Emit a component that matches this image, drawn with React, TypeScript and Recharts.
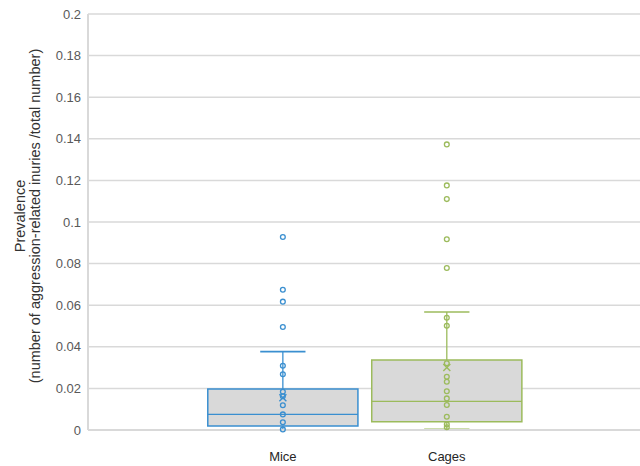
import { ComposedChart, XAxis, YAxis, CartesianGrid, Scatter, ReferenceArea, ReferenceLine } from 'recharts'

const categories = ['Mice', 'Cages']

// box stats: [min, q1, median, q3, max]
const miceBox = [0, 0.0019, 0.0075, 0.0197, 0.0377]
const cagesBox = [0.0003, 0.004, 0.0138, 0.0337, 0.0567]
const miceMean = 0.0155
const cagesMean = 0.0301

const micePoints = [0.0928, 0.0674, 0.0617, 0.0495, 0.0309, 0.0268, 0.0184, 0.0162, 0.0119, 0.0075, 0.0037, 0.0003]
const cagesPoints = [0.1373, 0.1176, 0.111, 0.0917, 0.0779, 0.054, 0.0501, 0.0321, 0.0256, 0.0232, 0.0186, 0.0152, 0.012, 0.0064, 0.0027, 0.0013]

const yTicks = [0, 0.02, 0.04, 0.06, 0.08, 0.1, 0.12, 0.14, 0.16, 0.18, 0.2]

const colors = ['#3a8fd0', '#9cbb5c']
const xPos = [0.353, 0.65]
const boxHalf = 0.136
const capHalf = 0.041
const font = "'Liberation Sans', Arial, sans-serif"

const boxes = [miceBox, cagesBox]
const means = [miceMean, cagesMean]
const points = [micePoints, cagesPoints]

const AxisTitle = () => (
  <text transform="translate(25, 216) rotate(-90)" textAnchor="middle" fill="#333333" fontSize={14.5} fontFamily={font}>
    <tspan x={0} dy={0}>Prevalence</tspan>
    <tspan x={0} dy={15}>(number of aggression-related inuries /total number)</tspan>
  </text>
)

export default function App() {
  return (
    <div style={{ position: 'absolute', left: 0, top: 0, background: '#fff' }}>
      <ComposedChart width={640} height={466} margin={{ top: 14, right: 0, bottom: 0, left: 0 }}>
        <CartesianGrid vertical={false} stroke="#d9d9d9" strokeWidth={1.5} />
        <XAxis
          type="number"
          dataKey="x"
          domain={[0, 1]}
          ticks={xPos}
          tickFormatter={(v: number) => categories[xPos.indexOf(v)] ?? ''}
          axisLine={{ stroke: '#d9d9d9', strokeWidth: 2 }}
          tickLine={false}
          tickSize={0}
          tickMargin={22}
          height={36}
          tick={{ fill: '#262626', fontSize: 13, fontFamily: font }}
        />
        <YAxis
          type="number"
          dataKey="y"
          domain={[0, 0.2]}
          ticks={yTicks}
          interval={0}
          width={88}
          axisLine={{ stroke: '#d9d9d9', strokeWidth: 2 }}
          tickLine={false}
          tickSize={0}
          tickMargin={7}
          tick={{ fill: '#595959', fontSize: 13, fontFamily: font }}
          label={<AxisTitle />}
        />
        {boxes.map((b, i) => (
          <ReferenceArea
            key={'box' + i}
            x1={xPos[i] - boxHalf}
            x2={xPos[i] + boxHalf}
            y1={b[1]}
            y2={b[3]}
            fill="#d9d9d9"
            fillOpacity={1}
            stroke={colors[i]}
            strokeWidth={1.5}
            ifOverflow="visible"
          />
        ))}
        {boxes.map((b, i) => (
          <ReferenceLine key={'med' + i} segment={[{ x: xPos[i] - boxHalf, y: b[2] }, { x: xPos[i] + boxHalf, y: b[2] }]} stroke={colors[i]} strokeWidth={1.3} />
        ))}
        {boxes.map((b, i) => (
          <ReferenceLine key={'wu' + i} segment={[{ x: xPos[i], y: b[3] }, { x: xPos[i], y: b[4] }]} stroke={colors[i]} strokeWidth={1.3} />
        ))}
        {boxes.map((b, i) => (
          <ReferenceLine key={'wl' + i} segment={[{ x: xPos[i], y: b[0] }, { x: xPos[i], y: b[1] }]} stroke={colors[i]} strokeWidth={1.3} />
        ))}
        {boxes.map((b, i) => (
          <ReferenceLine key={'cu' + i} segment={[{ x: xPos[i] - capHalf, y: b[4] }, { x: xPos[i] + capHalf, y: b[4] }]} stroke={colors[i]} strokeWidth={1.6} />
        ))}
        {boxes.map((b, i) => (
          <ReferenceLine key={'cl' + i} segment={[{ x: xPos[i] - capHalf, y: b[0] }, { x: xPos[i] + capHalf, y: b[0] }]} stroke={colors[i]} strokeWidth={1.6} ifOverflow="visible" />
        ))}
        {points.map((pts, i) => (
          <Scatter
            key={'pts' + i}
            data={pts.map((y) => ({ x: xPos[i], y }))}
            isAnimationActive={false}
            shape={(p: any) => <circle cx={p.cx} cy={p.cy} r={2.4} fill="none" stroke={colors[i]} strokeWidth={1.3} />}
          />
        ))}
        {means.map((m, i) => (
          <Scatter
            key={'mean' + i}
            data={[{ x: xPos[i], y: m }]}
            isAnimationActive={false}
            shape={(p: any) => (
              <g stroke={colors[i]} strokeWidth={1.4}>
                <line x1={p.cx - 3.5} y1={p.cy - 3.5} x2={p.cx + 3.5} y2={p.cy + 3.5} />
                <line x1={p.cx - 3.5} y1={p.cy + 3.5} x2={p.cx + 3.5} y2={p.cy - 3.5} />
              </g>
            )}
          />
        ))}
      </ComposedChart>
    </div>
  )
}
